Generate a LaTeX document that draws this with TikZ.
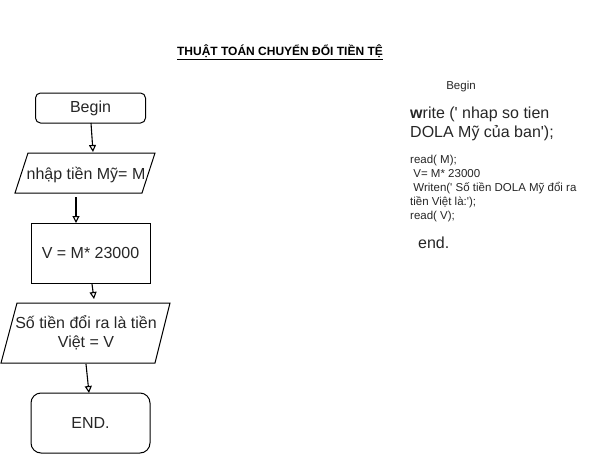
\documentclass[tikz,border=0pt]{standalone}
\usepackage{fontspec}
\setmainfont{Liberation Sans}
\usetikzlibrary{arrows.meta}
\newcommand{\sq}{\textquotesingle}
\begin{document}
\begin{tikzpicture}[x=1pt,y=-1pt,
  shapeline/.style={draw=black,line width=1pt},
  flowarrow/.style={draw=black,line width=1.1pt,-{Triangle[open,length=7pt,width=7pt]}},
  boxtext/.style={inner sep=0pt,font=\fontsize{16}{19}\selectfont,align=center,text=black!85},
  codetext/.style={inner sep=0pt,anchor=north west,align=left,text=black!85}
]
\useasboundingbox (0,0) rectangle (597,455);
% title
\node[inner sep=0pt,font=\fontsize{12}{14}\selectfont\bfseries] (title) at (280,52) {\underline{THUẬT TOÁN CHUYỂN ĐỔI TIỀN TỆ}};
% begin
\node[shapeline,rounded corners=5pt,minimum width=110pt,minimum height=30pt,boxtext] (begin) at (90.5,108) {Begin};
% input parallelogram
\draw[shapeline] (28,153) -- (155,153) -- (142,193) -- (15,193) -- cycle;
\node[boxtext] (input) at (86,175) {nhập tiền Mỹ= M};
\coordinate (inTop) at (93,152);
\coordinate (inBot) at (76,197);
% process
\node[shapeline,minimum width=119pt,minimum height=60pt,boxtext] (calc) at (90.5,253) {V = M* 23000};
\coordinate (calcTop) at (76,223);
\coordinate (calcBot) at (92,284);
% output parallelogram
\draw[shapeline] (17,303) -- (170,303) -- (155,363) -- (1,363) -- cycle;
\node[boxtext] (output) at (86,333) {Số tiền đổi ra là tiền\\Việt = V};
\coordinate (outTop) at (94,299);
\coordinate (outBot) at (86,364);
% end
\node[shapeline,rounded corners=10pt,minimum width=119pt,minimum height=60pt,boxtext] (endbox) at (90.5,423) {END.};
\coordinate (endTop) at (89,393);
% arrows
\draw[flowarrow] (91,123) -- (inTop);
\draw[flowarrow] (inBot) -- (calcTop);
\draw[flowarrow] (calcBot) -- (outTop);
\draw[flowarrow] (outBot) -- (endTop);
% right code
\node[inner sep=0pt,font=\fontsize{11.5}{14}\selectfont,text=black!85] (cbegin) at (461,87) {Begin};
\node[codetext,font=\fontsize{16}{19}\selectfont] (cwrite) at (410,107) {\textbf{w}rite (\sq{} nhap so tien\\DOLA Mỹ của ban\sq);};
\node[codetext,font=\fontsize{11.5}{14}\selectfont] (cbody) at (410,155) {read( M);\\\ V= M* 23000\\\ Writen(\sq{} Số tiền DOLA Mỹ đổi ra\\tiền Việt là:\sq);\\read( V);};
\node[codetext,font=\fontsize{16}{19}\selectfont] (cend) at (418,237) {end.};
\end{tikzpicture}
\end{document}
